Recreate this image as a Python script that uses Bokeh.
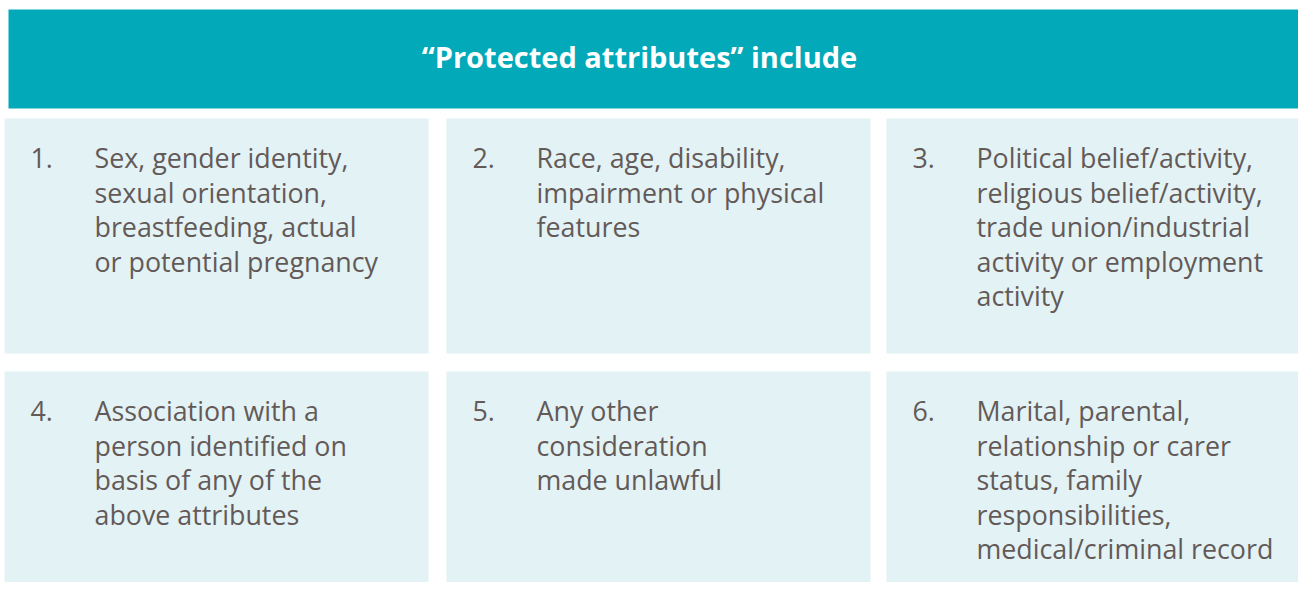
from bokeh.plotting import figure
from bokeh.models import Range1d
from bokeh.core.properties import value
from bokeh.embed import file_html
from bokeh.resources import INLINE

# ---- content ----
title_text = "\u201cProtected attributes\u201d include"
item_numbers = ["1.", "2.", "3.", "4.", "5.", "6."]
item_lines = [
    ["Sex, gender identity,", "sexual orientation,", "breastfeeding, actual", "or potential pregnancy"],
    ["Race, age, disability,", "impairment or physical", "features"],
    ["Political belief/activity,", "religious belief/activity,", "trade union/industrial",
     "activity or employment", "activity"],
    ["Association with a", "person identified on", "basis of any of the", "above attributes"],
    ["Any other", "consideration", "made unlawful"],
    ["Marital, parental,", "relationship or carer", "status, family", "responsibilities,",
     "medical/criminal record"],
]

# ---- layout (reference pixel coordinates) ----
col_left = [4, 446, 886]
box_w = 424
row_top = [118, 371]
row_bottom = [353, 600]
header = dict(left=8, right=1310, top=9, bottom=108)
num_dx = 26
txt_dx = 90
first_base_dy = 39
line_h = 34.6

HEADER_COLOR = "#02A9B8"
BOX_COLOR = "#E3F2F5"
TEXT_COLOR = "#635A58"
FONT = "Open Sans"

W, H = 1298, 582
p = figure(width=W, height=H, output_backend="svg", toolbar_location=None,
           x_range=Range1d(0, W), y_range=Range1d(H, 0),
           min_border=0, background_fill_color="white", border_fill_color="white")
p.axis.visible = False
p.grid.visible = False
p.outline_line_color = None

# header band
p.quad(left=[header["left"]], right=[header["right"]], top=[header["top"]],
       bottom=[header["bottom"]], fill_color=HEADER_COLOR, line_color=None)
p.text(x=[639], y=[56], text=[title_text],
       text_font=value(FONT), text_font_style="bold", text_font_size="29px",
       text_color="white", text_align="center", text_baseline="alphabetic")

# boxes
bl, br, bt, bb = [], [], [], []
for i in range(len(item_numbers)):
    r, c = divmod(i, 3)
    bl.append(col_left[c]); br.append(col_left[c] + box_w)
    bt.append(row_top[r]); bb.append(row_bottom[r])
p.quad(left=bl, right=br, top=bt, bottom=bb, fill_color=BOX_COLOR, line_color=None)

# numbers and texts
nx, ny, tx, ty, tt = [], [], [], [], []
for i, (num, lines) in enumerate(zip(item_numbers, item_lines)):
    r, c = divmod(i, 3)
    base = row_top[r] + first_base_dy
    nx.append(col_left[c] + num_dx); ny.append(base)
    for k, ln in enumerate(lines):
        tx.append(col_left[c] + txt_dx); ty.append(base + k * line_h); tt.append(ln)

p.text(x=nx, y=ny, text=item_numbers, text_font=value(FONT), text_font_size="26.8px",
       text_color=TEXT_COLOR, text_align="left", text_baseline="alphabetic")
p.text(x=tx, y=ty, text=tt, text_font=value(FONT), text_font_size="26.8px",
       text_color=TEXT_COLOR, text_align="left", text_baseline="alphabetic")

open("out.html", "w").write(file_html(p, INLINE))
